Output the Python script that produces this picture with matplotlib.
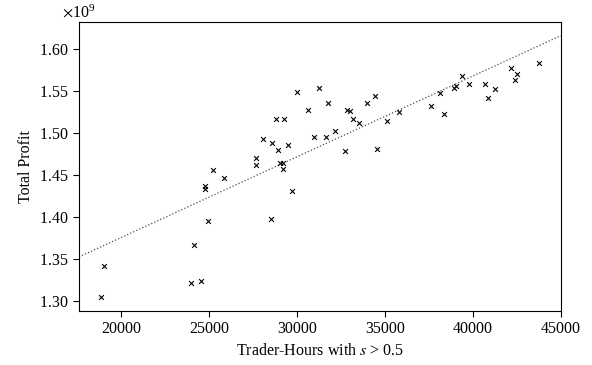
import matplotlib
matplotlib.use('Agg')
import matplotlib.pyplot as plt
from matplotlib.ticker import ScalarFormatter
import numpy as np

plt.rcParams['font.family'] = 'serif'
plt.rcParams['font.serif'] = ['Liberation Serif']
plt.rcParams['mathtext.fontset'] = 'stix'
plt.rcParams['font.size'] = 11.5

# trader-hours above threshold vs total profit (in units of 1e9)
hours = [18864, 19051, 24148, 23997, 24565, 24924, 24754, 24754, 25227, 25869,
         28523, 29699, 27670, 27670, 28086, 28580, 28920, 28824, 29261, 29034,
         29187, 29187, 29472, 30000, 30643, 30985, 31250, 31631, 31780, 32176,
         32710, 32824, 33011, 33164, 33505, 33960, 34415, 34528, 35131, 35795,
         37597, 38108, 38352, 38938, 39034, 39375, 39773, 40682, 40871, 41250,
         42159, 42483, 42369, 43767]
profit = [1.3051, 1.3417, 1.3674, 1.3222, 1.3238, 1.3960, 1.4369, 1.4333, 1.4560, 1.4471,
          1.3976, 1.4310, 1.4706, 1.4626, 1.4936, 1.4881, 1.4798, 1.5170, 1.5170, 1.4650,
          1.4643, 1.4571, 1.4861, 1.5488, 1.5277, 1.4952, 1.5536, 1.4952, 1.5364, 1.5027,
          1.4786, 1.5274, 1.5265, 1.5174, 1.5123, 1.5357, 1.5440, 1.4817, 1.5146, 1.5254,
          1.5325, 1.5483, 1.5230, 1.5543, 1.5560, 1.5686, 1.5591, 1.5583, 1.5420, 1.5531,
          1.5777, 1.5702, 1.5638, 1.5841]

x = np.array(hours)
y = np.array(profit) * 1e9

fig = plt.figure(figsize=(5.92, 3.65), dpi=100)
ax = fig.add_axes([0.1334, 0.148, 0.8142, 0.7917])

ax.scatter(x, y, marker='x', s=12, color='k', linewidths=0.8, zorder=3)

# least squares trend line across the whole axis
xlim = (17614, 45000)
slope, intercept = np.polyfit(x, y, 1)
xs = np.array(xlim)
ax.plot(xs, slope * xs + intercept, linestyle=':', color='0.3', lw=0.9)

ax.set_xlim(*xlim)
ax.set_ylim(1.2885e9, 1.6325e9)
ax.set_xticks([20000, 25000, 30000, 35000, 40000, 45000])
ax.set_yticks(np.arange(1.30, 1.601, 0.05) * 1e9)
fmt = ScalarFormatter(useMathText=True)
ax.yaxis.set_major_formatter(fmt)
ax.yaxis.get_offset_text().set_x(-0.035)
ax.tick_params(direction='out', length=4, top=False, right=False)
ax.set_xlabel('Trader-Hours with $s$ > 0.5')
ax.set_ylabel('Total Profit')

fig.savefig('out.png', dpi=100)
